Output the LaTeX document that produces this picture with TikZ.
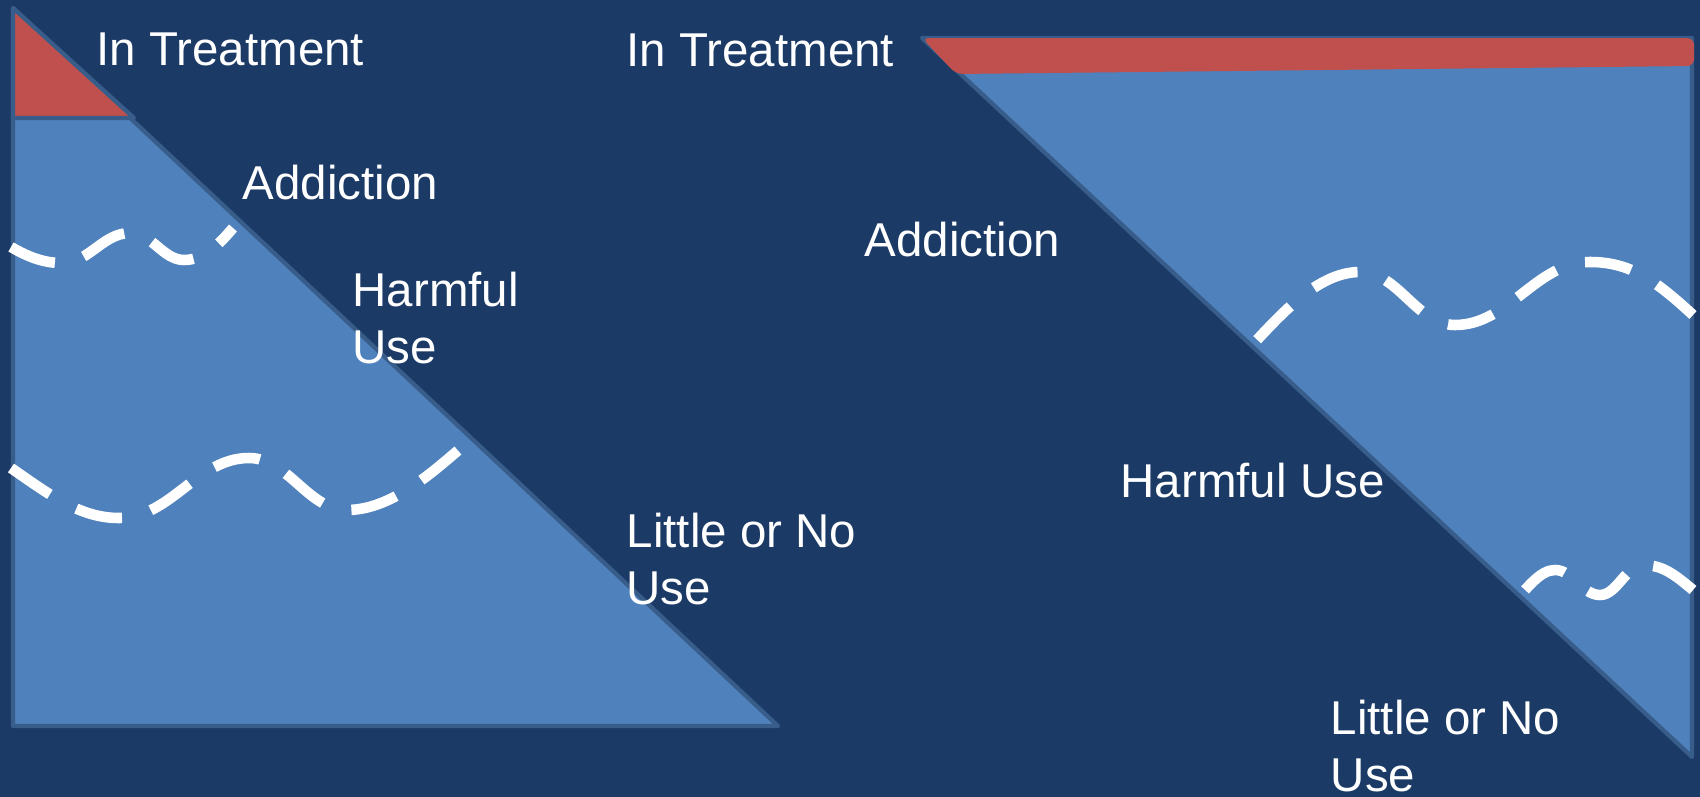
\documentclass[tikz,border=0pt]{standalone}
\usepackage{fontspec}
\setmainfont{Liberation Sans}
\usepackage{tikz}
\usetikzlibrary{positioning}
\definecolor{slidebg}{RGB}{28,58,102}
\definecolor{trifill}{RGB}{79,129,189}
\definecolor{triedge}{RGB}{56,93,138}
\definecolor{treatred}{RGB}{192,80,77}

\begin{document}
\begin{tikzpicture}[x=0.01cm, y=-0.01cm,
    lbl/.style={text=white, font=\fontsize{13.5}{16}\selectfont, inner sep=0pt, anchor=base west, align=left},
    wave/.style={white, line width=3pt, dash pattern=on 0.47cm off 0.3cm},
    tri/.style={fill=trifill, draw=triedge, line width=1.2pt, line join=round}]
    \fill[slidebg] (0,0) rectangle (1700,797);
    \useasboundingbox (0,0) rectangle (1700,797);

    \draw[tri] (13,8) -- (13,726) -- (778,726) -- cycle;
    \draw[tri, fill=treatred] (13,8) -- (13,118) -- (134,118) -- cycle;
    \draw[wave] (11,247) .. controls (30,258) and (45,263) .. (62,263)
        .. controls (89,263) and (103,233) .. (130,233)
        .. controls (152,233) and (163,260) .. (184,260)
        .. controls (205,260) and (220,243) .. (233,228);
    \draw[wave] (11,468) .. controls (50,495) and (80,518) .. (119,518)
        .. controls (171,518) and (197,458) .. (249,458)
        .. controls (288,458) and (308,510) .. (347,510)
        .. controls (395,510) and (440,465) .. (468,442);

    \draw[tri] (922,38) -- (1692,38) -- (1692,757) -- cycle;
    \fill[treatred, rounded corners=2pt] (922,38) -- (1694,38) -- (1694,66) -- (956,74) -- cycle;
    \draw[wave] (1693,315) .. controls (1655,280) and (1630,262) .. (1590,262)
        .. controls (1536,262) and (1509,325) .. (1455,325)
        .. controls (1417,325) and (1398,272) .. (1360,272)
        .. controls (1320,272) and (1285,310) .. (1255,342);
    \draw[wave] (1693,590) .. controls (1675,575) and (1663,565) .. (1643,565)
        .. controls (1626,565) and (1617,595) .. (1600,595)
        .. controls (1582,595) and (1573,570) .. (1555,570)
        .. controls (1540,570) and (1528,588) .. (1517,598);

    \node[lbl] (treatL) at (96,65) {In Treatment};
    \node[lbl] (addL) at (242,199) {Addiction};
    \node[lbl] (harmL) at (352,363) {Harmful\\Use};
    \node[lbl] (littleL) at (626,604) {Little or No\\Use};

    \node[lbl] (treatR) at (626,67) {In Treatment};
    \node[lbl] (addR) at (864,256) {Addiction};
    \node[lbl] (harmR) at (1120,497) {Harmful Use};
    \node[lbl] (littleR) at (1330,791) {Little or No\\Use};
\end{tikzpicture}
\end{document}
